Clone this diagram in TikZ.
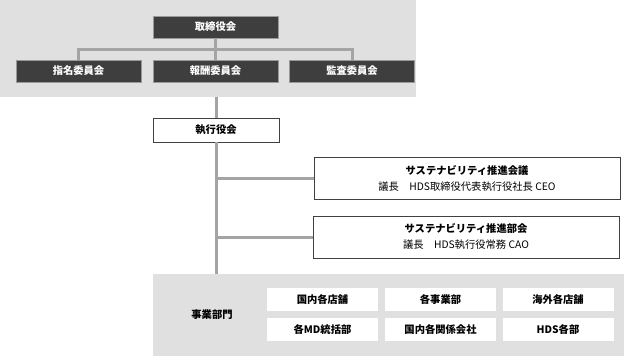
\documentclass[tikz,border=0pt]{standalone}
\usepackage{fontspec}
\setmainfont{Noto Sans CJK JP}
\usetikzlibrary{positioning}

\definecolor{panelgray}{HTML}{E0E0E0}
\definecolor{boxdark}{HTML}{3E3E3E}
\definecolor{linegray}{HTML}{A4A4A4}

\begin{document}
\begin{tikzpicture}[
  x=1pt, y=-1pt,
  line cap=butt,
  panel/.style={fill=panelgray, inner sep=0, outer sep=0, anchor=north west},
  darkbox/.style={draw=gray!80, fill=boxdark, text=white, font=\fontsize{10.3}{12}\selectfont\bfseries,
    minimum width=125, minimum height=22, inner sep=0},
  execbox/.style={draw=black!75, fill=white, font=\fontsize{10.3}{12}\selectfont\bfseries,
    minimum width=126, minimum height=24, inner sep=0},
  susbox/.style={draw=black!75, fill=white, font=\fontsize{10.3}{16}\selectfont, align=center,
    minimum width=306, minimum height=42, inner sep=0},
  unitbox/.style={fill=white, font=\fontsize{10.3}{12}\selectfont\bfseries,
    minimum width=111, minimum height=23, inner sep=0},
  conn/.style={draw=linegray, line width=3pt}
]
  \useasboundingbox (0,0) rectangle (624,356);

  % Panels
  \node[panel, minimum width=416, minimum height=97] (govpanel) at (0,0) {};
  \node[panel, minimum width=471, minimum height=82] (bizpanel) at (153,274) {};

  % Governance
  \node[darkbox] (board) at (215.5,27) {取締役会};
  \node[darkbox] (nomin) at (78.5,71) {指名委員会};
  \node[darkbox] (remun) at (215.5,71) {報酬委員会};
  \node[darkbox] (audit) at (352,71) {監査委員会};

  % Execution
  \node[execbox] (exec) at (216,130) {執行役会};
  \node[susbox] (council) at (467,178.5) {\textbf{サステナビリティ推進会議}\\議長　HDS取締役代表執行役社長 CEO};
  \node[susbox] (section) at (466,237) {\textbf{サステナビリティ推進部会}\\議長　HDS執行役常務 CAO};

  % Business units
  \node[font=\fontsize{10.3}{12}\selectfont\bfseries] (bizlabel) at (212,315) {事業部門};
  \node[unitbox] (unitA) at (322.5,299.5) {国内各店舗};
  \node[unitbox] (unitB) at (440.5,299.5) {各事業部};
  \node[unitbox] (unitC) at (558,299.5) {海外各店舗};
  \node[unitbox] (unitD) at (322.5,329.5) {各MD統括部};
  \node[unitbox] (unitE) at (440.5,329.5) {国内各関係会社};
  \node[unitbox] (unitF) at (558,329.5) {HDS各部};

  % Connectors
  \draw[conn] (board) -- (remun);
  \draw[conn] (nomin.north) -- ++(0,-10) -| (audit.north);
  \draw[conn] (govpanel.south -| exec.north) -- (exec.north);
  \draw[conn] (exec.south) -- (exec.south |- bizpanel.north);
  \draw[conn] (council.west) -- (council.west -| exec.south);
  \draw[conn] (section.west) -- (section.west -| exec.south);
\end{tikzpicture}
\end{document}
